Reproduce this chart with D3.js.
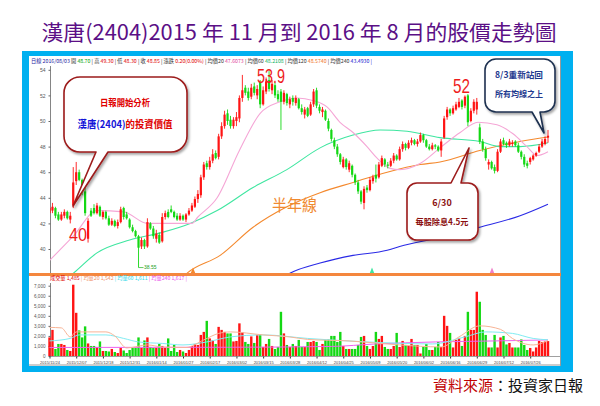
<!DOCTYPE html>
<html><head><meta charset="utf-8">
<script src="https://cdn.jsdelivr.net/npm/d3@7"></script>
<style>body{margin:0;background:#fff}svg{display:block}</style>
</head><body><svg id="c" width="600" height="406"></svg>
<script>
// ---------------- DATA ----------------
const titleText = "漢唐(2404)2015 年 11 月到 2016 年 8 月的股價走勢圖";
const dateLabels = ["2015/11/24","2015/12/07","2015/12/18","2015/12/31","2016/01/14","2016/01/27","2016/02/17","2016/03/02","2016/03/15","2016/03/28","2016/04/12","2016/04/25","2016/05/09","2016/05/20","2016/06/02","2016/06/16","2016/06/29","2016/07/12","2016/07/26"];
const dateIdx = [0,9,18,27,36,45,54,63,72,81,90,99,108,117,126,135,144,153,162];
const priceTicks = [40,42,44,46,48,50,52,54];
const volTicks = [0,1000,2000,3000,4000,5000,6000,7000];
// daily [open, high, low, close]
const ohlc = [
[42.8,43.4,42.6,43.2],[43.0,43.6,42.8,43.3],[43.2,43.3,42.4,42.6],[42.7,42.9,42.2,42.3],[42.3,42.9,42.2,42.7],
[42.6,43.1,42.4,42.9],[42.9,43.0,42.3,42.4],[42.3,42.9,42.0,42.6],[43.4,46.4,43.2,45.2],[45.3,46.8,45.0,46.0],
[46.0,46.2,45.3,45.4],[45.4,45.5,44.2,44.5],[44.5,44.8,42.6,42.8],[40.8,42.4,40.5,42.2],[43.0,43.2,42.5,42.6],
[43.2,43.5,42.7,42.8],[42.8,43.6,42.7,43.4],[43.3,43.4,42.5,42.6],[42.5,43.0,42.3,42.9],[42.9,43.0,42.3,42.4],
[42.4,42.6,41.8,41.9],[41.9,42.4,41.8,42.2],[42.2,42.3,41.7,41.8],[41.8,42.3,41.6,42.1],[42.1,43.3,42.0,43.1],
[43.2,43.3,42.3,42.5],[42.7,42.9,42.3,42.4],[42.3,42.4,41.6,41.7],[41.7,41.9,41.3,41.4],[41.4,41.5,40.9,41.0],
[41.0,41.1,38.55,40.1],[40.2,40.9,40.0,40.7],[40.7,40.8,40.0,40.2],[40.2,42.4,40.1,42.1],[42.0,42.1,41.5,41.6],
[41.6,41.8,40.8,41.0],[40.8,41.5,40.5,41.2],[41.1,41.3,40.4,40.5],[40.6,42.8,40.5,42.5],[42.5,43.0,42.3,42.8],
[42.9,43.1,42.4,42.5],[43.1,43.4,42.8,42.9],[42.9,43.0,42.4,42.5],[42.6,42.8,42.2,42.3],[42.3,42.8,42.2,42.6],
[42.6,42.7,42.2,42.3],[42.3,42.8,42.1,42.7],[42.7,43.2,42.6,43.0],[43.0,43.6,42.9,43.4],[43.3,44.1,43.2,43.9],
[43.9,44.6,43.6,44.3],[44.2,45.8,44.0,45.6],[45.6,46.8,45.4,46.6],[46.7,46.9,46.2,46.4],[46.4,47.2,46.2,46.9],
[46.9,47.8,46.7,47.4],[47.5,47.7,47.0,47.1],[47.2,49.0,47.0,48.8],[48.8,49.9,48.6,49.6],[49.6,50.8,49.4,50.5],
[50.6,50.9,49.7,50.0],[50.1,50.4,49.4,49.6],[49.6,50.3,49.4,50.1],[50.0,50.7,49.6,50.3],[50.2,52.0,49.9,51.8],
[51.8,53.6,51.5,52.4],[52.6,52.8,52.0,52.2],[52.3,52.6,51.6,51.8],[51.9,52.9,51.7,52.6],[52.7,53.0,52.0,52.2],
[52.0,52.8,51.7,52.5],[53.0,53.2,51.0,51.3],[51.3,52.7,51.2,52.4],[52.3,53.4,52.1,53.1],[53.2,53.9,52.3,52.5],
[52.4,53.2,52.1,52.9],[52.8,53.0,51.8,52.0],[52.1,52.4,51.5,51.7],[52.3,52.5,49.3,51.5],[51.5,52.4,51.3,52.2],
[52.1,52.2,51.2,51.4],[51.3,51.9,51.0,51.7],[51.8,52.0,51.2,51.5],[51.4,52.0,51.2,51.8],[51.7,51.8,50.9,51.0],
[51.0,51.3,50.5,50.7],[50.5,51.1,50.2,50.9],[51.0,51.1,50.3,50.4],[50.5,51.5,50.4,51.3],[51.3,52.5,51.1,52.3],
[52.4,52.6,51.0,51.2],[51.1,51.3,50.6,50.8],[50.7,51.1,50.3,50.9],[50.8,50.9,50.0,50.1],[50.0,50.2,49.2,49.4],
[49.3,49.4,48.4,48.6],[48.5,48.7,47.8,48.0],[48.0,48.2,47.2,47.4],[47.4,47.5,46.6,46.8],[46.4,47.2,46.3,47.0],
[47.0,47.1,46.2,46.4],[46.2,46.9,46.0,46.7],[46.5,46.6,45.6,45.8],[45.8,45.9,45.0,45.2],[45.2,45.4,44.3,44.5],
[44.5,44.6,43.5,43.7],[43.6,44.9,43.1,44.7],[44.8,45.0,44.4,44.6],[44.6,45.6,44.5,45.4],[45.3,45.8,45.1,45.6],
[45.8,46.6,45.2,45.5],[45.6,46.8,45.5,46.6],[46.5,47.3,46.4,47.1],[47.0,47.1,46.4,46.6],[46.6,46.8,46.3,46.5],
[46.5,47.1,46.4,46.9],[46.9,47.5,46.7,47.3],[47.3,47.4,46.9,47.0],[47.0,48.0,46.9,47.8],[47.8,48.4,47.6,48.2],
[48.2,48.3,47.7,47.9],[47.9,48.5,47.8,48.3],[48.3,48.7,48.1,48.5],[48.5,48.6,48.1,48.2],[48.2,48.6,48.0,48.4],
[48.4,49.1,48.3,48.9],[48.9,49.0,48.3,48.5],[48.5,48.6,47.9,48.0],[48.0,48.2,47.7,47.8],[47.8,48.3,47.7,48.1],
[48.1,48.2,47.8,48.0],[48.0,48.1,47.6,47.7],[47.7,48.6,47.2,48.4],[48.7,50.4,48.6,50.2],[50.3,51.1,50.1,50.9],
[50.9,51.0,50.4,50.6],[50.6,51.2,50.5,51.0],[50.9,51.5,50.8,51.3],[51.1,51.8,51.0,51.5],[51.6,51.7,50.9,51.1],
[51.2,52.0,51.0,51.9],[52.0,52.1,49.6,49.9],[50.0,51.0,49.9,50.8],[50.8,51.7,50.6,51.5],[50.9,51.8,50.5,51.5],
[49.5,49.8,48.2,48.4],[48.4,48.6,47.6,47.8],[47.8,48.0,46.9,47.1],[46.6,47.0,46.2,46.8],[46.8,46.9,46.2,46.3],
[46.4,46.6,45.9,46.1],[46.1,47.8,46.0,47.6],[47.6,48.6,47.5,48.4],[48.5,48.7,48.1,48.2],[48.3,48.4,47.9,48.1],
[48.1,48.6,48.0,48.4],[48.2,48.5,48.0,48.3],[48.4,48.5,48.0,48.1],[48.1,48.3,47.5,47.6],[47.6,47.7,47.0,47.2],
[47.2,47.4,46.4,46.6],[46.7,46.9,46.3,46.5],[46.8,47.2,46.6,47.1],[47.0,47.4,46.9,47.3],[47.3,47.6,47.2,47.5],
[47.6,48.2,47.5,48.0],[48.0,48.6,47.9,48.4],[48.2,48.8,48.1,48.6],[48.70,49.30,48.30,48.85]
];
const volumes = [
1850,2600,700,1200,1200,1100,600,500,7100,4300,2550,1850,2950,1250,1000,1000,900,1450,500,500,
450,700,400,300,800,550,300,600,800,800,1850,800,1550,1850,900,800,800,1200,1000,800,
1750,500,1100,400,600,450,300,600,1000,1200,1100,2100,2400,3500,1750,1550,1200,2900,2600,2400,
2250,2250,1450,1500,3250,2350,1400,1200,1950,1300,2100,2150,900,1200,1700,1000,700,900,4400,2250,
1100,900,1200,1000,1600,900,900,1400,1400,1500,1400,600,1200,1600,1650,2000,2000,1400,2400,1000,
700,700,700,700,1100,1900,2000,1000,700,1000,2400,1700,2000,900,700,700,1000,2300,900,1500,
1100,1000,1700,1100,1100,250,900,1200,600,600,900,1400,900,4000,3000,2300,850,1600,1800,1000,
2000,4400,2600,2600,6400,5400,2600,2100,850,850,2100,850,1850,2000,1150,1300,850,850,850,1650,
1100,600,800,450,850,1500,1400,1450,1485
];
// moving averages: [bar index, value]
const ma20 = [[0,39.1],[8,41.0],[16,43.0],[25,42.9],[33,42.0],[48,42.0],[50,42.5],[56.5,44.0],[64,47.7],[71,50.6],[77.7,51.5],[83.4,51.8],[88.8,51.6],[93.5,51.1],[97.9,49.9],[102.3,49.1],[107,48.0],[110.4,47.1],[114.8,46.3],[118,46.2],[125,46.7],[131.6,47.9],[138.4,49.1],[144.4,49.9],[150.8,49.7],[156.2,49.0],[160.9,48.0],[164.3,47.3],[168,47.6]];
const ma60 = [[4,37.4],[8,38.1],[16,39.7],[27,40.7],[38,41.3],[47.4,42.0],[56.5,43.0],[68.6,44.8],[80,46.2],[91.2,47.9],[102.3,48.9],[111.4,49.3],[120.5,49.2],[131.6,48.7],[145,48.4],[151.8,48.0],[158.6,48.0],[168,48.3]];
const ma120 = [[44,37.6],[46.3,38.1],[57.5,39.5],[68.6,41.7],[80,43.3],[91.2,44.4],[102.3,45.2],[113.8,46.0],[124.9,46.6],[131.6,46.8],[145,47.7],[158.6,48.4],[168,48.75]];
const ma240 = [[78,37.7],[81,38.1],[91.2,38.9],[102.3,39.5],[113.8,39.9],[118,40.2],[131.6,40.9],[145,41.7],[158.6,42.6],[168,43.5]];
const volMa20 = [[0,2850],[4,2800],[7,1900],[9,2400],[19,2400],[22,2000],[26,800],[33,1100],[38,900],[46,850],[52,1600],[57,2250],[61,2400],[72,2100],[81,1900],[87,1650],[101,1500],[118,1100],[132,900],[138,1900],[145,3000],[152,2650],[156,1750],[163,1100],[168,1540]];
const volMa60 = [[0,1500],[7,1750],[10,2100],[19,2100],[25,1750],[30,1400],[38,1250],[45,1100],[53,1400],[61,1900],[72,2100],[87,1750],[107,1400],[129,1200],[140,1900],[147,2400],[156,2250],[163,1750],[168,1610]];
const volMa240 = [[0,850],[60,870],[95,950],[110,1200],[130,1400],[150,1500],[168,1600]];
const headerLabels = ["日線 ","2016/08/03 ","開 ","| 高 ","| 低 ","| 收 ","| 漲跌 ","| 均價20 ","| 均價60 ","| 均價120 ","| 均價240 "];
const headerValues = ["","","48.70 ","49.30 ","48.30 ","48.85 ","0.20(0.00%) ","47.6073 ","48.2108 ","48.5740 ","43.4930 |"];
const volHeaderItems = ["成交量 1,485 ","| 均量20 1,542 ","| 均量60 1,611 ","| 均量240 1,617 |"];

// ---------------- DRAW ----------------
const svg = d3.select("#c");
const defs = svg.append("defs");
defs.append("clipPath").attr("id","clipP").append("rect").attr("x",50).attr("y",64).attr("width",511).attr("height",209);
const f = defs.append("filter").attr("id","sh").attr("x","-20%").attr("y","-20%").attr("width","150%").attr("height","150%");
f.append("feDropShadow").attr("dx",1.5).attr("dy",2).attr("stdDeviation",1.2).attr("flood-color","#000").attr("flood-opacity",0.35);

svg.append("rect").attr("width",600).attr("height",406).attr("fill","#fff");
svg.append("text").attr("x",299).attr("y",40).attr("text-anchor","middle")
  .attr("font-family","'Noto Sans CJK TC','Noto Sans CJK SC',sans-serif").attr("font-size",21)
  .attr("fill","#5b0f86").attr("textLength",515).attr("lengthAdjust","spacingAndGlyphs").text(titleText);

// frame
svg.append("rect").attr("x",22).attr("y",51).attr("width",551).attr("height",321).attr("fill","#00b0f0");
svg.append("rect").attr("x",29).attr("y",56).attr("width",532).attr("height",310).attr("fill","#fff");
svg.append("line").attr("x1",560.5).attr("x2",560.5).attr("y1",56).attr("y2",366).attr("stroke","#9a9a9a");
svg.append("line").attr("x1",29).attr("x2",561).attr("y1",365).attr("y2",365).attr("stroke","#9a9a9a");

const xs = d3.scaleLinear().domain([0,168]).range([49.5,548]);
const ys = d3.scaleLinear().domain([40,54]).range([249,69.8]);
const vs = d3.scaleLinear().domain([0,7000]).range([356,285.7]);
const up = "#ff1414", dn = "#14d814";
const col = d => d[3] >= d[0] ? up : dn;

// header: one text line with coloured pieces
const hc = ["#1a1aa0","#1a1aa0","#00a000","#e00000","#e00000","#e00000","#e00000","#e0409a","#10b060","#f07020","#1a1ad0"];
const hf = "'Noto Sans CJK TC',sans-serif";
const ht = svg.append("text").attr("x",31).attr("y",62.5).attr("font-size",5.3).attr("font-family",hf)
  .attr("textLength",341).attr("lengthAdjust","spacingAndGlyphs");
headerLabels.forEach((l,i)=>{
  ht.append("tspan").attr("fill", i<2 ? hc[i] : "#333").text(l);
  if (headerValues[i]) ht.append("tspan").attr("fill",hc[i]).text(headerValues[i]);
});

// price axis
svg.append("line").attr("x1",50.5).attr("x2",50.5).attr("y1",66).attr("y2",273).attr("stroke","#666").attr("stroke-width",0.8);
const pa = svg.append("g").attr("transform","translate(50.5,0)").call(d3.axisLeft(ys).tickValues(priceTicks).tickSize(2));
pa.select(".domain").remove();
pa.selectAll("text").attr("font-size",5).attr("fill","#555").attr("font-family","'Liberation Sans',Arial");
pa.selectAll("line").attr("stroke","#666");

// price MAs
const gP = svg.append("g").attr("clip-path","url(#clipP)");
const lineP = d3.line().x(d=>xs(d[0])).y(d=>ys(d[1])).curve(d3.curveMonotoneX);
[[ma240,"#2a2ae6"],[ma120,"#f4892e"],[ma60,"#3fe6a0"],[ma20,"#f5a6d6"]].forEach(([d,c])=>{
  gP.append("path").attr("d",lineP(d)).attr("fill","none").attr("stroke",c).attr("stroke-width",1.1);
});
// candles
gP.selectAll("line.wk").data(ohlc).join("line").attr("class","wk")
  .attr("x1",(d,i)=>xs(i)).attr("x2",(d,i)=>xs(i)).attr("y1",d=>ys(d[1])).attr("y2",d=>ys(d[2]))
  .attr("stroke",col).attr("stroke-width",0.9);
gP.selectAll("rect.bd").data(ohlc).join("rect").attr("class","bd")
  .attr("x",(d,i)=>xs(i)-1.1).attr("width",2.2)
  .attr("y",d=>ys(Math.max(d[0],d[3]))).attr("height",d=>Math.max(1,Math.abs(ys(d[0])-ys(d[3]))))
  .attr("fill",col);

// low marker 38.55
const lowI = 30;
svg.append("path").attr("d",`M${xs(lowI)},${ys(ohlc[lowI][2])}h5`).attr("stroke","#20b020").attr("stroke-width",0.7).attr("fill","none");
svg.append("text").attr("x",xs(lowI)+5.5).attr("y",ys(ohlc[lowI][2])+1.8).attr("font-size",5).attr("fill","#20a020")
  .attr("font-family","'Liberation Sans',Arial").text(ohlc[lowI][2].toFixed(2));

// separator
svg.append("rect").attr("x",29).attr("y",273).attr("width",532).attr("height",3).attr("fill","#f4873e");
[[193,"#f4892e"],[372,"#3fe6a0"],[492,"#f080c8"]].forEach(([x,c])=>{
  svg.append("path").attr("d",`M${x-2.2},273L${x},267.5L${x+2.2},273Z`).attr("fill",c);
});

// volume header
const vhc=["#e00000","#f0906a","#30d8e8","#e850e8"];
const vt = svg.append("text").attr("x",50).attr("y",280).attr("font-size",5.2).attr("font-family",hf)
  .attr("textLength",137).attr("lengthAdjust","spacingAndGlyphs");
volHeaderItems.forEach((t,i)=>vt.append("tspan").attr("fill",vhc[i]).text(t));

// volume axis
svg.append("line").attr("x1",50.5).attr("x2",50.5).attr("y1",283).attr("y2",356).attr("stroke","#666").attr("stroke-width",0.8);
svg.append("line").attr("x1",50).attr("x2",560).attr("y1",356.5).attr("y2",356.5).attr("stroke","#888").attr("stroke-width",0.8);
const va = svg.append("g").attr("transform","translate(50.5,0)").call(d3.axisLeft(vs).tickValues(volTicks).tickSize(2).tickFormat(d3.format(",")));
va.select(".domain").remove();
va.selectAll("text").attr("font-size",4.6).attr("fill","#555").attr("font-family","'Liberation Sans',Arial");
va.selectAll("line").attr("stroke","#666");

svg.selectAll("rect.vb").data(volumes).join("rect").attr("class","vb")
  .attr("x",(d,i)=>xs(i)-1.2).attr("width",2.4).attr("y",d=>vs(d)).attr("height",d=>vs(0)-vs(d))
  .attr("fill",(d,i)=>col(ohlc[i]));
const lineV = d3.line().x(d=>xs(d[0])).y(d=>vs(d[1])).curve(d3.curveMonotoneX);
[[volMa240,"#f060f0"],[volMa60,"#80ecf2"],[volMa20,"#f8b496"]].forEach(([d,c])=>{
  svg.append("path").attr("d",lineV(d)).attr("fill","none").attr("stroke",c).attr("stroke-width",1);
});

// date axis
const da = svg.append("g").attr("transform","translate(0,356.5)")
  .call(d3.axisBottom(xs).tickValues(dateIdx).tickSize(2).tickFormat((d,i)=>dateLabels[i]));
da.select(".domain").remove();
da.selectAll("line").attr("stroke","#333");
da.selectAll("text").attr("font-size",4.3).attr("fill","#444").attr("dy",0).attr("y",7)
  .attr("font-family","'Liberation Sans',Arial").attr("textLength",20).attr("lengthAdjust","spacingAndGlyphs");

// annotations
const big = (t,x,y,fs,w,c)=>svg.append("text").attr("x",x).attr("y",y).attr("text-anchor","middle")
  .attr("font-size",fs).attr("fill",c).attr("font-family","'Liberation Sans',Arial")
  .attr("textLength",w).attr("lengthAdjust","spacingAndGlyphs").text(t);
big("53.9", xs(74)+2, 82.5, 20.5, 28, "#ee1c1c");
big("52", 461.5, 92.5, 21, 17, "#ee1c1c");
big("40", 78, 240.7, 19, 18, "#ee1c1c");
svg.append("text").attr("x",294.5).attr("y",210.5).attr("text-anchor","middle").attr("font-size",16)
  .attr("fill","#f08a30").attr("font-family","'Noto Sans CJK TC',sans-serif")
  .attr("textLength",45).attr("lengthAdjust","spacingAndGlyphs").text("半年線");

function calloutPath(o){
  const {x,y,w,h,r,edge,b1,b2,tx,ty}=o;
  let p=`M${x+r},${y}`;
  if(edge==="top") p+=`L${b1},${y}L${tx},${ty}L${b2},${y}`;
  p+=`L${x+w-r},${y}A${r},${r} 0 0 1 ${x+w},${y+r}L${x+w},${y+h-r}A${r},${r} 0 0 1 ${x+w-r},${y+h}`;
  if(edge==="bottom") p+=`L${b2},${y+h}L${tx},${ty}L${b1},${y+h}`;
  p+=`L${x+r},${y+h}A${r},${r} 0 0 1 ${x},${y+h-r}L${x},${y+r}A${r},${r} 0 0 1 ${x+r},${y}Z`;
  return p;
}
function callout(o,stroke){
  svg.append("path").attr("d",calloutPath(o)).attr("fill","#fff").attr("stroke",stroke)
    .attr("stroke-width",1.6).attr("stroke-linejoin","round").attr("filter","url(#sh)");
}
const cjk = "'Noto Sans CJK TC','Noto Sans CJK SC',sans-serif";
callout({x:64,y:77,w:123,h:75,r:16,edge:"bottom",b1:96,b2:108,tx:73,ty:206},"#9c1a1a");
svg.append("text").attr("x",125).attr("y",106).attr("text-anchor","middle").attr("font-size",9.5).attr("font-weight","bold")
  .attr("font-family",cjk).attr("fill","#e00000").attr("textLength",50).attr("lengthAdjust","spacingAndGlyphs").text("日報開始分析");
const t2 = svg.append("text").attr("x",125).attr("y",128).attr("text-anchor","middle").attr("font-size",10).attr("font-weight","bold")
  .attr("font-family",cjk).attr("textLength",95).attr("lengthAdjust","spacingAndGlyphs");
t2.append("tspan").attr("fill","#1414d8").text("漢唐(2404)");
t2.append("tspan").attr("fill","#e00000").text("的投資價值");

callout({x:485,y:59,w:70,h:53,r:11,edge:"bottom",b1:532,b2:540,tx:544,ty:133},"#1f3050");
[["8/3重新站回",78],["所有均線之上",97]].forEach(([t,y])=>{
  svg.append("text").attr("x",519).attr("y",y).attr("text-anchor","middle").attr("font-size",8.5).attr("font-weight","bold")
    .attr("font-family",cjk).attr("fill","#1f3b8f").attr("textLength",48).attr("lengthAdjust","spacingAndGlyphs").text(t);
});

callout({x:407,y:183,w:71,h:57,r:10,edge:"top",b1:451,b2:461,tx:469,ty:148},"#9c1a1a");
svg.append("text").attr("x",442).attr("y",206).attr("text-anchor","middle").attr("font-size",9).attr("font-weight","bold")
  .attr("font-family",cjk).attr("fill","#8b1010").text("6/30");
svg.append("text").attr("x",442).attr("y",225).attr("text-anchor","middle").attr("font-size",8.5).attr("font-weight","bold")
  .attr("font-family",cjk).attr("fill","#8b1010").attr("textLength",53).attr("lengthAdjust","spacingAndGlyphs").text("每股除息4.5元");

// source
const src = svg.append("text").attr("x",583).attr("y",391).attr("text-anchor","end").attr("font-size",15).attr("font-family",cjk);
src.append("tspan").attr("fill","#c00000").text("資料來源");
src.append("tspan").attr("fill","#111").text("：投資家日報");
</script></body></html>
